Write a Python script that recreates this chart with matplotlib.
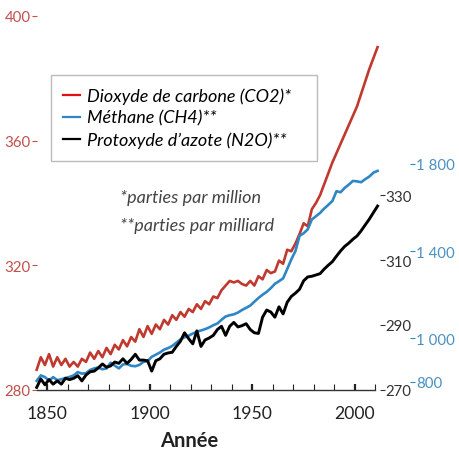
import matplotlib
matplotlib.use("Agg")
import matplotlib.pyplot as plt
from matplotlib.ticker import MultipleLocator

plt.rcParams['font.family'] = ['Lato', 'DejaVu Sans']

# years, every two years
years = list(range(1845, 2012, 2))

# CO2 (ppm)
co2 = [286.5, 290.5, 288, 291.5, 287.5, 290.5, 288, 290, 287.5, 289,
       287.5, 290, 289, 292, 290, 292.5, 290.5, 293.5, 291.5, 294.5,
       293, 296, 294, 297, 295.5, 299.5, 297, 300.5, 298, 301,
       299.5, 302.5, 301, 304, 302.5, 305, 303.5, 306, 305, 307.5,
       306, 308.5, 307.5, 310, 309.5, 312, 313.5, 315, 314.5, 315,
       314, 313.5, 315, 313.5, 316.5, 315.5, 318.5, 317.5, 318, 321.5,
       320.5, 325, 324.5, 327, 330, 333.5, 332.5, 338, 340, 342.5,
       346, 349.5, 353, 356, 359, 362, 365, 368, 371, 375,
       379, 383, 386.5, 390]

# CH4 (ppb)
ch4 = [805, 830, 822, 806, 822, 808, 812, 818, 823, 830,
       845, 838, 840, 855, 862, 866, 858, 862, 888, 875,
       862, 880, 882, 874, 872, 878, 892, 895, 915, 925,
       935, 948, 955, 965, 980, 995, 1005, 1012, 1022, 1030,
       1036, 1042, 1050, 1060, 1068, 1085, 1100, 1106, 1110, 1118,
       1130, 1140, 1150, 1168, 1185, 1200, 1213, 1230, 1250, 1262,
       1275, 1318, 1362, 1400, 1470, 1482, 1500, 1545, 1560, 1575,
       1595, 1612, 1630, 1675, 1670, 1690, 1705, 1722, 1720, 1716,
       1730, 1742, 1760, 1768]

# N2O (ppb)
n2o = [270.8, 273.4, 271.6, 273.2, 271.8, 272.8, 271.8, 273.6, 273.2, 273.6,
       274.4, 272.8, 274.6, 275.6, 275.8, 276.8, 278, 277, 277.4, 278.6,
       278.2, 279.6, 278.2, 279.4, 281, 279.2, 279.2, 279, 275.8, 279,
       279.6, 281, 281.4, 281.6, 283.4, 285, 287.6, 285.8, 284.2, 288.2,
       283.4, 285.4, 286, 286.8, 288.6, 289.6, 286.8, 289.6, 290.8, 289.4,
       289.8, 290.4, 288.6, 287.6, 287.4, 292.4, 294.6, 294, 292.4, 295.6,
       293.4, 297, 298.8, 299.8, 301, 303.6, 304.8, 305, 305.4, 305.8,
       307.2, 308.4, 309.5, 311.2, 312.8, 314.2, 315.2, 316.4, 317.4, 319,
       320.8, 322.6, 324.6, 326.6]

co2_ticks = [280, 320, 360, 400]
n2o_ticks = [270, 290, 310, 330]
ch4_ticks = [800, 1000, 1400, 1800]
ch4_labels = ['800', '1 000', '1 400', '1 800']
x_ticks = [1850, 1900, 1950, 2000]

labels = ['Dioxyde de carbone (CO2)*', 'Méthane (CH4)**', 'Protoxyde d\u2019azote (N2O)**']

red = '#c0392f'
blue = '#2f86c6'

fig = plt.figure(figsize=(4.6, 4.52), dpi=100)
ax = fig.add_axes([0.0798, 0.135, 0.7365, 0.8274])
ax_ch4 = ax.twinx()
ax_n2o = ax.twinx()

l1, = ax.plot(years, co2, color=red, lw=1.9, clip_on=False)
l2, = ax_ch4.plot(years, ch4, color=blue, lw=1.9, clip_on=False)
l3, = ax_n2o.plot(years, n2o, color='black', lw=2.1, clip_on=False)

ax.set_xlim(1845, 2010)
ax.set_ylim(280, 400)
ax_n2o.set_ylim(270, 385.1)
ax_ch4.set_ylim(763, 2478.6)

for a in (ax, ax_ch4, ax_n2o):
    for s in ('top', 'left', 'right'):
        a.spines[s].set_visible(False)
ax_ch4.spines['bottom'].set_visible(False)
ax_n2o.spines['bottom'].set_visible(False)
ax.spines['bottom'].set_color('#333333')
ax.spines['bottom'].set_linewidth(1.0)

# x axis
ax.set_xticks(x_ticks)
ax.xaxis.set_minor_locator(MultipleLocator(10))
ax.tick_params(axis='x', which='major', direction='in', length=4, width=1.6,
               color='#222222', labelsize=12.7, labelcolor='#222222', pad=11)
ax.tick_params(axis='x', which='minor', direction='in', length=4, width=0.8,
               color='#222222')

# CO2 axis on the left
ax.set_yticks(co2_ticks)
ax.tick_params(axis='y', direction='out', length=3.5, width=0.8, color='#c0504d',
               labelcolor='#c0504d', labelsize=10.8, pad=1)

# N2O axis on the right
ax_n2o.spines['right'].set_position(('outward', 3))
ax_n2o.set_yticks(n2o_ticks)
ax_n2o.tick_params(axis='y', direction='out', length=3.5, width=0.8, color='#333333',
                   labelcolor='#333333', labelsize=10.8, pad=0.5)

# CH4 axis further right
ax_ch4.spines['right'].set_position(('outward', 25))
ax_ch4.set_yticks(ch4_ticks)
ax_ch4.set_yticklabels(ch4_labels)
ax_ch4.tick_params(axis='y', direction='out', length=3.5, width=0.8, color=blue,
                   labelcolor='#4a90c2', labelsize=10.8, pad=0.5)

leg = fig.legend([l1, l2, l3], labels, loc='upper left',
                 bbox_to_anchor=(51 / 460, 290 / 452, 266 / 460, 86 / 452), mode='expand',
                 prop={'style': 'italic', 'size': 13}, frameon=True, fancybox=False,
                 edgecolor='#aaaaaa', handlelength=0.95, handletextpad=0.35,
                 borderpad=0.68, labelspacing=0.33, borderaxespad=0)
leg.get_frame().set_linewidth(1.0)
leg.legend_handles[0].set_color('#e01010')
for h in leg.legend_handles:
    h.set_linewidth(1.6)

fig.text(0.261, 0.561, '*parties par million', style='italic', color='#444444',
         fontsize=13, va='center')
fig.text(0.261, 0.499, '**parties par milliard', style='italic', color='#444444',
         fontsize=13, va='center')

fig.text(0.411, 0.024, 'Année', fontweight='bold', fontsize=14.5, ha='center',
         va='center', color='#222222')

fig.savefig('out.png', dpi=100)
